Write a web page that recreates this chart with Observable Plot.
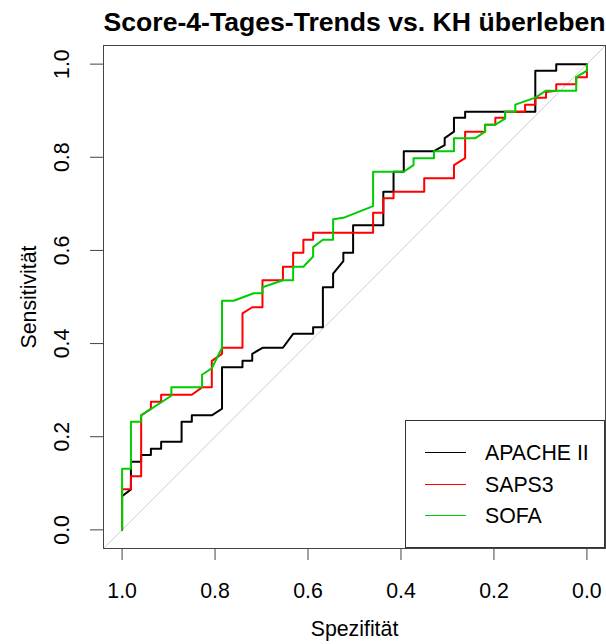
<!DOCTYPE html>
<html>
<head>
<meta charset="utf-8">
<script src="https://cdn.jsdelivr.net/npm/d3@7"></script>
<script src="https://cdn.jsdelivr.net/npm/@observablehq/plot@0.6"></script>
<style>
  html, body { margin: 0; padding: 0; background: #fff; }
  #chart { width: 606px; height: 644px; }
</style>
</head>
<body>
<div id="chart"></div>
<script>
// ---- texts ----
const titleText = "Score-4-Tages-Trends vs. KH überleben";
const xLabel = "Spezifität";
const yLabel = "Sensitivität";

// ---- series ----
const seriesNames = ["APACHE II", "SAPS3", "SOFA"];
const seriesColors = ["#000000", "#ff0000", "#00cd00"];

// ---- ticks ----
const tickValues = [0, 0.2, 0.4, 0.6, 0.8, 1.0];
const xDomain = [1.04, -0.04];
const yDomain = [-0.04, 1.04];

// ---- ROC curves: [specificity, sensitivity] ----
const apache = [
  [1,0],[1,0.072],[0.981,0.087],[0.981,0.146],[0.959,0.146],[0.959,0.161],[0.938,0.161],[0.938,0.174],
  [0.916,0.174],[0.916,0.189],[0.872,0.189],[0.872,0.232],[0.850,0.232],[0.850,0.246],[0.807,0.246],
  [0.785,0.260],[0.785,0.349],[0.741,0.349],[0.741,0.363],[0.720,0.363],[0.720,0.378],[0.698,0.391],
  [0.654,0.391],[0.632,0.421],[0.589,0.421],[0.589,0.435],[0.568,0.435],[0.568,0.521],[0.546,0.521],
  [0.546,0.550],[0.524,0.577],[0.524,0.595],[0.503,0.595],[0.503,0.654],[0.438,0.654],[0.438,0.726],
  [0.416,0.726],[0.416,0.769],[0.394,0.769],[0.394,0.813],[0.329,0.813],[0.306,0.826],[0.306,0.841],
  [0.286,0.855],[0.286,0.885],[0.262,0.885],[0.262,0.898],[0.111,0.898],[0.111,0.986],[0.066,0.986],
  [0.066,1],[0,1]
];
const saps3 = [
  [1,0],[1,0.087],[0.981,0.087],[0.981,0.115],[0.959,0.115],[0.959,0.246],[0.938,0.260],[0.938,0.275],
  [0.916,0.275],[0.916,0.290],[0.850,0.290],[0.828,0.306],[0.807,0.306],[0.807,0.363],[0.785,0.378],
  [0.785,0.391],[0.741,0.391],[0.741,0.465],[0.720,0.478],[0.698,0.478],[0.698,0.536],[0.654,0.536],
  [0.654,0.565],[0.632,0.565],[0.632,0.595],[0.610,0.595],[0.610,0.623],[0.589,0.623],[0.589,0.638],
  [0.460,0.638],[0.460,0.681],[0.438,0.681],[0.438,0.712],[0.416,0.712],[0.416,0.726],[0.350,0.726],
  [0.350,0.755],[0.286,0.755],[0.286,0.783],[0.262,0.798],[0.262,0.855],[0.219,0.855],[0.219,0.870],
  [0.197,0.870],[0.197,0.885],[0.176,0.885],[0.176,0.898],[0.133,0.898],[0.133,0.913],[0.111,0.913],
  [0.111,0.928],[0.088,0.928],[0.088,0.940],[0.066,0.943],[0.066,0.957],[0.023,0.957],[0.023,0.972],
  [0,0.972],[0,1]
];
const sofa = [
  [1,0],[1,0.131],[0.981,0.131],[0.981,0.232],[0.959,0.232],[0.959,0.246],[0.894,0.288],[0.894,0.306],
  [0.828,0.306],[0.828,0.333],[0.807,0.347],[0.785,0.391],[0.785,0.492],[0.760,0.492],[0.717,0.508],
  [0.698,0.508],[0.698,0.521],[0.654,0.536],[0.632,0.536],[0.632,0.565],[0.610,0.565],[0.589,0.587],
  [0.589,0.607],[0.568,0.623],[0.546,0.623],[0.546,0.667],[0.524,0.670],[0.460,0.695],[0.460,0.769],
  [0.394,0.769],[0.373,0.783],[0.373,0.798],[0.329,0.798],[0.329,0.813],[0.286,0.813],[0.286,0.841],
  [0.240,0.841],[0.219,0.855],[0.219,0.870],[0.197,0.870],[0.176,0.883],[0.176,0.898],[0.154,0.898],
  [0.154,0.913],[0.111,0.928],[0.088,0.943],[0.023,0.943],[0.023,0.972],[0,0.986],[0,1]
];
const seriesData = [apache, saps3, sofa];

// ---- layout ----
const W = 606, H = 644;
const M = { top: 45, right: 1, bottom: 96, left: 103 };
const baseFont = 21.3;
const fontFamily = "'Liberation Sans', Arial, Helvetica, sans-serif";

const fmt = d3.format(".1f");

const chart = Plot.plot({
  width: W,
  height: H,
  marginTop: M.top,
  marginRight: M.right,
  marginBottom: M.bottom,
  marginLeft: M.left,
  style: { fontFamily, fontSize: baseFont + "px", background: "#fff", color: "#000" },
  x: { domain: xDomain, label: null },
  y: { domain: yDomain, label: null },
  marks: [
    // identity diagonal
    Plot.link([xDomain], {
      x1: d => d[0], y1: d => 1 - d[0],
      x2: d => d[1], y2: d => 1 - d[1],
      stroke: "#cccccc", strokeWidth: 1
    }),
    ...seriesData.map((data, i) =>
      Plot.line(data, {
        x: d => d[0], y: d => d[1],
        stroke: seriesColors[i], strokeWidth: 2, curve: "linear"
      })
    ),
    Plot.frame({ stroke: "#444", strokeWidth: 1 }),
    Plot.axisX(tickValues, {
      tickSize: 12, tickPadding: 22, tickFormat: fmt, label: null,
      fontSize: baseFont, stroke: "#444", fill: "#000"
    }),
    Plot.axisY(tickValues, {
      tickSize: 13, tickPadding: 22, tickRotate: -90, tickFormat: fmt, label: null,
      fontSize: baseFont, stroke: "#444", fill: "#000"
    }),
    Plot.text([titleText], {
      frameAnchor: "top", lineAnchor: "middle", textAnchor: "middle", dy: -23.5,
      fontSize: 26.6, fontWeight: "bold", fill: "#000", text: d => d
    }),
    Plot.text([xLabel], {
      frameAnchor: "bottom", lineAnchor: "middle", textAnchor: "middle", dy: 81,
      fontSize: baseFont, fill: "#000", text: d => d
    }),
    Plot.text([yLabel], {
      frameAnchor: "left", lineAnchor: "middle", textAnchor: "middle", dx: -74, rotate: -90,
      fontSize: baseFont, fill: "#000", text: d => d
    })
  ]
});

// ---- legend (bottom-right, inside plot box) ----
const svg = d3.select(chart);
const right = W - M.right, bottom = H - M.bottom;
const lg = svg.append("g")
  .attr("font-family", fontFamily)
  .attr("font-size", baseFont + "px")
  .attr("text-anchor", "start");
lg.append("rect")
  .attr("x", right - 199.5).attr("y", bottom - 127.5)
  .attr("width", 199).attr("height", 127)
  .attr("fill", "#fff").attr("stroke", "#333").attr("stroke-width", 1);
seriesNames.forEach((name, i) => {
  const y = Math.round(bottom - 96 + i * 31.5) + 0.5;
  lg.append("line")
    .attr("x1", right - 180).attr("x2", right - 139)
    .attr("y1", y).attr("y2", y)
    .style("stroke", seriesColors[i])
    .style("stroke-width", "1px");
  lg.append("text")
    .attr("x", right - 120).attr("y", y).attr("dy", "0.35em")
    .attr("text-anchor", "start")
    .style("fill", "#000")
    .text(name);
});

document.getElementById("chart").appendChild(chart);
</script>
</body>
</html>
